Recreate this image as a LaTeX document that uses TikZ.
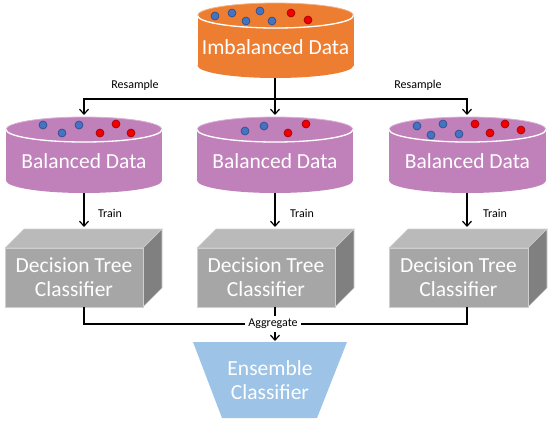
\documentclass[tikz,border=0pt]{standalone}
\usepackage{fontspec}
\setmainfont{Carlito}
\usetikzlibrary{arrows.meta}
\definecolor{orng}{RGB}{237,125,49}
\definecolor{purp}{RGB}{192,128,186}
\definecolor{dotb}{RGB}{68,114,196}
\definecolor{dotr}{RGB}{240,0,0}
\definecolor{gfront}{RGB}{166,166,166}
\definecolor{gtop}{RGB}{186,186,186}
\definecolor{gside}{RGB}{128,128,128}
\definecolor{trap}{RGB}{157,195,230}
\tikzset{
 bigtext/.style={text=white,font=\fontsize{21.5}{24}\selectfont,align=center,inner sep=0pt},
 smalllbl/.style={font=\fontsize{12}{14}\selectfont,inner sep=1pt},
 conn/.style={line width=1.2pt,-{Straight Barb[length=5pt,width=9pt]}},
 plainline/.style={line width=1.2pt},
 bdot/.style={fill=dotb,draw=dotb!65!black,line width=0.6pt},
 rdot/.style={fill=dotr,draw=dotr!65!black,line width=0.6pt},
}
\newcommand\mycyl[5]{%
 \fill[#5] (#1-#4,#2+12.5) rectangle (#1+#4,#3-12.5);
 \fill[#5] (#1,#3-12.5) ellipse [x radius=#4,y radius=12.5];
 \filldraw[fill=#5,draw=#5!60!white,line width=0.8pt] (#1,#2+12.5) ellipse [x radius=#4,y radius=12.5];
 \draw[white,line width=1.3pt] (#1-#4,#2+12.5) arc[start angle=180,end angle=0,x radius=#4,y radius=12.5];
}
\newcommand\mybox[4]{%
 \filldraw[fill=gtop,draw=gtop!70!white,line width=0.6pt] (#1,#3) -- (#1+19,#3-19) -- (#2+19,#3-19) -- (#2,#3) -- cycle;
 \filldraw[fill=gside,draw=gtop!70!white,line width=0.6pt] (#2,#3) -- (#2+19,#3-19) -- (#2+19,#4-19) -- (#2,#4) -- cycle;
 \filldraw[fill=gfront,draw=gtop!70!white,line width=0.6pt] (#1,#3) rectangle (#2,#4);
}
\newcommand\bd[2]{\filldraw[bdot] (#1,#2) circle (4);}
\newcommand\rd[2]{\filldraw[rdot] (#1,#2) circle (4);}
\begin{document}
\begin{tikzpicture}[x=1pt,y=-1pt]
\useasboundingbox (0,0) rectangle (550,424);
% cylinders
\mycyl{275.5}{3}{78}{78}{orng}
\mycyl{84}{117}{193}{78}{purp}
\mycyl{275}{117}{193}{78}{purp}
\mycyl{467.5}{117}{193}{78.5}{purp}
% dots
\bd{215}{16}\bd{232}{13}\bd{246}{21}\bd{260}{11}\bd{272}{21}\rd{291}{13}\rd{308}{20}
\bd{43}{125}\bd{62}{133}\bd{79}{125}\rd{100}{133}\rd{116}{124}\rd{131}{133}
\bd{245}{131}\bd{264}{126}\rd{288}{133}\rd{306}{124}
\bd{417}{126}\bd{431}{135}\bd{443}{124}\bd{459}{134}\rd{475}{124}\rd{490}{133}\rd{505}{124}\rd{521}{130}
% boxes
\mybox{5}{143}{248}{307}
\mybox{197}{335}{248}{307}
\mybox{389}{528}{248}{307}
% trapezoid
\fill[trap] (193,342) -- (347,342) -- (317,418) -- (222,418) -- cycle;
% texts
\node[bigtext] (imb) at (275.5,47) {Imbalanced Data};
\node[bigtext] (bal1) at (84,161) {Balanced Data};
\node[bigtext] (bal2) at (275,161) {Balanced Data};
\node[bigtext] (bal3) at (467.5,161) {Balanced Data};
\node[bigtext] (dt1) at (74,277) {Decision Tree\\Classifier};
\node[bigtext] (dt2) at (266,277) {Decision Tree\\Classifier};
\node[bigtext] (dt3) at (458.5,277) {Decision Tree\\Classifier};
\node[bigtext] (ens) at (270,380) {Ensemble\\Classifier};
% coordinates
\coordinate (imbB) at (275,78);
\coordinate (split) at (275,99);
\coordinate (bal1T) at (84,115);
\coordinate (bal2T) at (275,115);
\coordinate (bal3T) at (467,115);
\coordinate (bal1B) at (84,193);
\coordinate (bal2B) at (275,193);
\coordinate (bal3B) at (467,193);
\coordinate (box1T) at (84,227);
\coordinate (box2T) at (275,227);
\coordinate (box3T) at (467,227);
\coordinate (box1B) at (84,307);
\coordinate (box2B) at (275,307);
\coordinate (box3B) at (467,307);
\coordinate (ensT) at (275,341);
% labels
\node[smalllbl] (rs1) at (135,85) {Resample};
\node[smalllbl] (rs2) at (418,85) {Resample};
\node[smalllbl] (tr1) at (110,213) {Train};
\node[smalllbl] (tr2) at (302,213) {Train};
\node[smalllbl] (tr3) at (495,213) {Train};
% connectors
\draw[conn] (imbB) -- (bal2T);
\draw[conn] (split) -| (bal1T);
\draw[conn] (split) -| (bal3T);
\draw[conn] (bal1B) -- (box1T);
\draw[conn] (bal2B) -- (box2T);
\draw[conn] (bal3B) -- (box3T);
\node[smalllbl,inner sep=3pt] (agg) at (273,324) {Aggregate};
\draw[plainline] (box1B) |- (agg.west);
\draw[plainline] (box3B) |- (agg.east);
\draw[plainline] (box2B) -- (box2B |- agg.north);
\draw[conn] (box2B |- agg.south) -- (ensT);
\end{tikzpicture}
\end{document}
